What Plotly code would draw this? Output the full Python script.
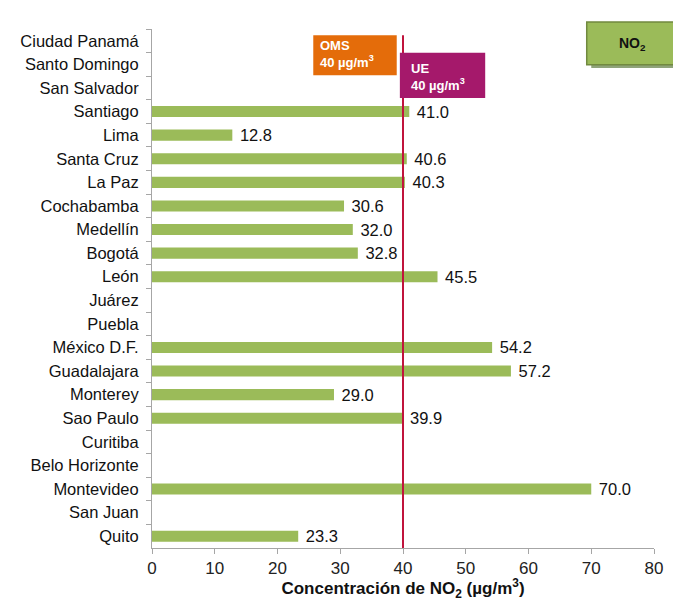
import plotly.graph_objects as go

cities = ["Ciudad Panamá", "Santo Domingo", "San Salvador", "Santiago", "Lima", "Santa Cruz",
          "La Paz", "Cochabamba", "Medellín", "Bogotá", "León", "Juárez", "Puebla",
          "México D.F.", "Guadalajara", "Monterey", "Sao Paulo", "Curitiba",
          "Belo Horizonte", "Montevideo", "San Juan", "Quito"]
no2 = [None, None, None, 41.0, 12.8, 40.6, 40.3, 30.6, 32.0, 32.8, 45.5, None, None,
       54.2, 57.2, 29.0, 39.9, None, None, 70.0, None, 23.3]
x_ticks = [0, 10, 20, 30, 40, 50, 60, 70, 80]
limit_value = 40

labels = [None if v is None else "\u00a0" + f"{v:.1f}" for v in no2]

FONT = "Liberation Sans, Arial"

fig = go.Figure()
fig.add_trace(go.Bar(
    y=cities, x=no2, orientation="h",
    marker=dict(color="#9BBB59", line=dict(width=0)),
    text=labels, textposition="outside", cliponaxis=False, constraintext="none",
    textfont=dict(family=FONT, size=16.5, color="#111111"),
    hoverinfo="x+y",
))

fig.add_shape(type="line", xref="x", yref="paper", x0=limit_value, x1=limit_value,
              y0=0, y1=0.988, line=dict(color="#C0143C", width=2))

# OMS box
fig.add_shape(type="rect", xref="x", yref="paper", x0=25.7, x1=39.0, y0=0.911, y1=0.988,
              fillcolor="#E46C0A", line=dict(width=0), layer="above")
fig.add_annotation(xref="x", yref="paper", x=26.5, y=0.952, xanchor="left", yanchor="middle",
                   text="<b>OMS<br>40 µg/m<sup>3</sup></b>", showarrow=False, align="left",
                   font=dict(family=FONT, size=13, color="white"))
# UE box
fig.add_shape(type="rect", xref="x", yref="paper", x0=39.5, x1=53.1, y0=0.867, y1=0.954,
              fillcolor="#A5196B", line=dict(width=0), layer="above")
fig.add_annotation(xref="x", yref="paper", x=40.9, y=0.908, xanchor="left", yanchor="middle",
                   text="<b>UE<br>40 µg/m<sup>3</sup></b>", showarrow=False, align="left",
                   font=dict(family=FONT, size=13, color="white"))
# NO2 box
fig.add_shape(type="rect", xref="paper", yref="paper", x0=0.875, x1=1.058, y0=0.925, y1=1.008,
              fillcolor="#8FA37A", line=dict(width=0), layer="above")
fig.add_shape(type="rect", xref="paper", yref="paper", x0=0.866, x1=1.05, y0=0.931, y1=1.0135,
              fillcolor="#9BBB59", line=dict(color="#71893F", width=1.5), layer="above")
fig.add_annotation(xref="paper", yref="paper", x=0.958, y=0.972, xanchor="center", yanchor="middle",
                   text="<b>NO<sub>2</sub></b>", showarrow=False,
                   font=dict(family=FONT, size=14, color="#111111"))

fig.update_layout(
    width=673, height=593,
    margin=dict(l=144, r=27, t=21, b=53),
    plot_bgcolor="white", paper_bgcolor="white",
    bargap=0.53, showlegend=False,
    font=dict(family=FONT, size=16, color="#111111"),
)
fig.update_xaxes(range=[0, 80], tickvals=x_ticks, showgrid=False, zeroline=False,
                 showline=True, linecolor="#A6A6A6", linewidth=1, automargin=False,
                 ticks="outside", ticklen=5, tickcolor="#A6A6A6",
                 tickfont=dict(size=17, color="#222222"),
                 title=dict(text="<b>Concentración de NO<sub>2</sub> (µg/m<sup>3</sup>)</b>",
                            font=dict(size=17, color="#111111"), standoff=1))
fig.update_yaxes(autorange="reversed", showgrid=False, showline=True, linecolor="#A6A6A6",
                 linewidth=1, ticks="outside", ticklen=5, tickcolor="#A6A6A6",
                 tickson="boundaries", ticklabelstandoff=9, automargin=False,
                 tickfont=dict(size=16.5, color="#111111"))

fig.write_html("out.html")
